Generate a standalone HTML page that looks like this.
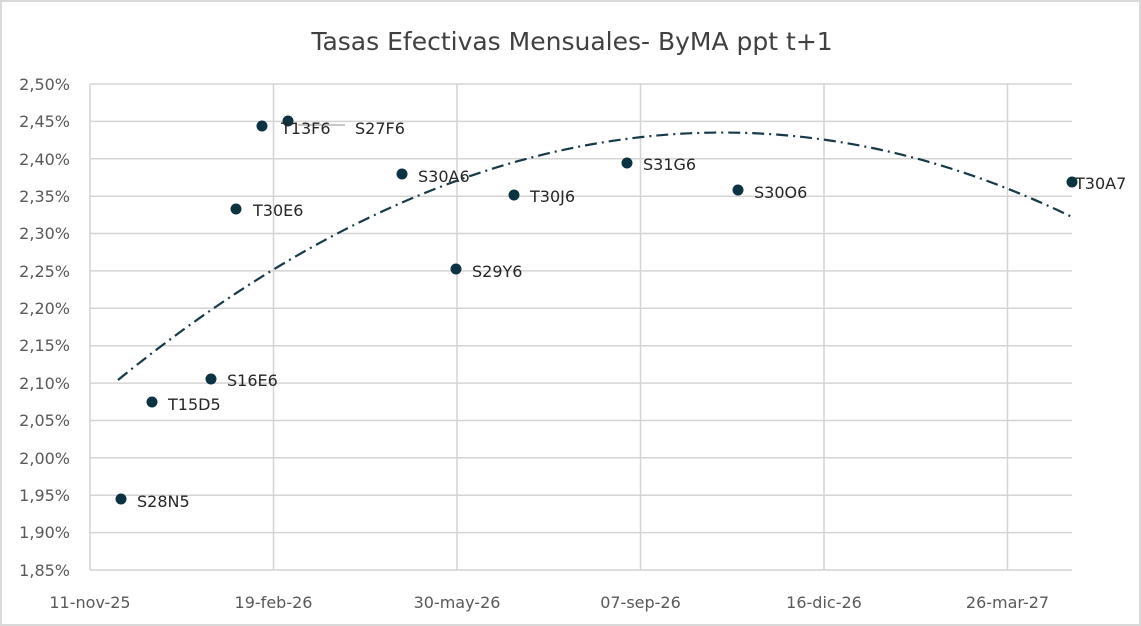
<!DOCTYPE html>
<html><head><meta charset="utf-8"><style>
html,body{margin:0;padding:0;background:#fff;}
svg{display:block;font-family:"DejaVu Sans","Liberation Sans",sans-serif;}
</style></head><body>
<svg width="1141" height="626" viewBox="0 0 1141 626">
<rect x="1" y="1" width="1139" height="624" fill="#fff" stroke="#d9d9d9" stroke-width="2"/>
<text x="572" y="50" font-size="25" text-anchor="middle" fill="#404040">Tasas Efectivas Mensuales- ByMA ppt t+1</text>
<g stroke="#d4d4d4" stroke-width="1.5">
<line x1="90" y1="84" x2="1072" y2="84"/><line x1="90" y1="121.4" x2="1072" y2="121.4"/>
<line x1="90" y1="158.8" x2="1072" y2="158.8"/><line x1="90" y1="196.2" x2="1072" y2="196.2"/>
<line x1="90" y1="233.5" x2="1072" y2="233.5"/><line x1="90" y1="270.9" x2="1072" y2="270.9"/>
<line x1="90" y1="308.3" x2="1072" y2="308.3"/><line x1="90" y1="345.7" x2="1072" y2="345.7"/>
<line x1="90" y1="383.1" x2="1072" y2="383.1"/><line x1="90" y1="420.5" x2="1072" y2="420.5"/>
<line x1="90" y1="457.8" x2="1072" y2="457.8"/><line x1="90" y1="495.2" x2="1072" y2="495.2"/>
<line x1="90" y1="532.6" x2="1072" y2="532.6"/><line x1="90" y1="570" x2="1072" y2="570"/>
<line x1="90" y1="84" x2="90" y2="570"/><line x1="273.5" y1="84" x2="273.5" y2="570"/>
<line x1="457" y1="84" x2="457" y2="570"/><line x1="640.5" y1="84" x2="640.5" y2="570"/>
<line x1="824" y1="84" x2="824" y2="570"/><line x1="1007.5" y1="84" x2="1007.5" y2="570"/>
</g>
<g font-size="16" fill="#595959" text-anchor="end">
<text x="70" y="90">2,50%</text><text x="70" y="127">2,45%</text><text x="70" y="165">2,40%</text>
<text x="70" y="202">2,35%</text><text x="70" y="239">2,30%</text><text x="70" y="277">2,25%</text>
<text x="70" y="314">2,20%</text><text x="70" y="351">2,15%</text><text x="70" y="389">2,10%</text>
<text x="70" y="426">2,05%</text><text x="70" y="464">2,00%</text><text x="70" y="501">1,95%</text>
<text x="70" y="538">1,90%</text><text x="70" y="576">1,85%</text>
</g>
<g font-size="16" fill="#595959" text-anchor="middle">
<text x="90" y="608">11-nov-25</text><text x="273.5" y="608">19-feb-26</text>
<text x="457" y="608">30-may-26</text><text x="640.5" y="608">07-sep-26</text>
<text x="824" y="608">16-dic-26</text><text x="1007.5" y="608">26-mar-27</text>
</g>
<path d="M118,380 Q600,-12 1072,217" fill="none" stroke="#163a47" stroke-width="2.2" stroke-dasharray="12,5,2,5"/>
<line x1="298" y1="125" x2="345" y2="125" stroke="#a6a6a6" stroke-width="1.2"/>
<g fill="#0d3342">
<circle cx="121" cy="499" r="5.5"/><circle cx="152" cy="402" r="5.5"/><circle cx="211" cy="379" r="5.5"/>
<circle cx="236" cy="209" r="5.5"/><circle cx="262" cy="126" r="5.5"/><circle cx="288" cy="121" r="5.5"/>
<circle cx="402" cy="174" r="5.5"/><circle cx="456" cy="269" r="5.5"/><circle cx="514" cy="195" r="5.5"/>
<circle cx="627" cy="163" r="5.5"/><circle cx="738" cy="190" r="5.5"/><circle cx="1072" cy="182" r="5.5"/>
</g>
<g font-size="16" fill="#262626">
<text x="137" y="507">S28N5</text><text x="168" y="410">T15D5</text><text x="227" y="386">S16E6</text>
<text x="253" y="216">T30E6</text><text x="281" y="134">T13F6</text><text x="355" y="134">S27F6</text>
<text x="418" y="182">S30A6</text><text x="472" y="277">S29Y6</text><text x="530" y="202">T30J6</text>
<text x="643" y="170">S31G6</text><text x="754" y="198">S30O6</text><text x="1075" y="189">T30A7</text>
</g>
</svg>
</body></html>
